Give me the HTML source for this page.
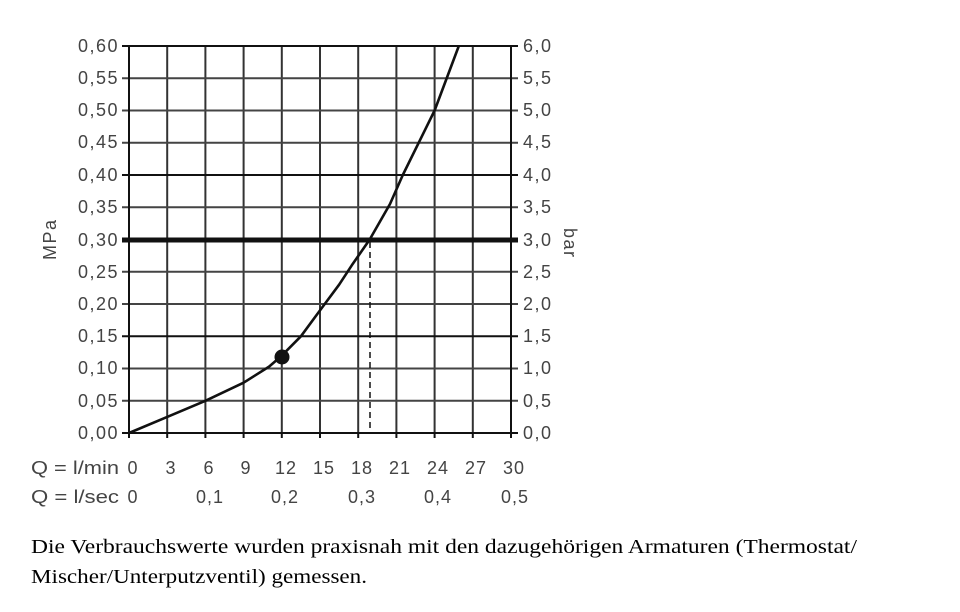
<!DOCTYPE html>
<html><head><meta charset="utf-8"><style>
html,body{margin:0;padding:0;background:#fff;width:960px;height:612px;overflow:hidden}
</style></head><body>
<svg width="960" height="612" xmlns="http://www.w3.org/2000/svg" style="position:absolute;left:0;top:0">
<g stroke="#333" stroke-width="2">
<line x1="167.2" y1="46" x2="167.2" y2="433"/><line x1="205.4" y1="46" x2="205.4" y2="433"/>
<line x1="243.6" y1="46" x2="243.6" y2="433"/><line x1="281.8" y1="46" x2="281.8" y2="433"/>
<line x1="320" y1="46" x2="320" y2="433"/><line x1="358.2" y1="46" x2="358.2" y2="433"/>
<line x1="396.4" y1="46" x2="396.4" y2="433"/><line x1="434.6" y1="46" x2="434.6" y2="433"/>
<line x1="472.8" y1="46" x2="472.8" y2="433"/>
</g>
<g stroke="#444" stroke-width="2">
<line x1="122" y1="78.25" x2="518" y2="78.25"/><line x1="122" y1="110.5" x2="518" y2="110.5"/>
<line x1="122" y1="142.75" x2="518" y2="142.75"/><line x1="122" y1="207.25" x2="518" y2="207.25"/>
<line x1="122" y1="271.75" x2="518" y2="271.75"/><line x1="122" y1="304" x2="518" y2="304"/>
<line x1="122" y1="368.5" x2="518" y2="368.5"/><line x1="122" y1="400.75" x2="518" y2="400.75"/>
</g>
<g stroke="#111" stroke-width="2">
<line x1="122" y1="175" x2="518" y2="175"/><line x1="122" y1="336.25" x2="518" y2="336.25"/>
<line x1="122" y1="46" x2="518" y2="46"/><line x1="122" y1="433" x2="518" y2="433"/>
<line x1="129" y1="46" x2="129" y2="438"/><line x1="511" y1="46" x2="511" y2="438"/>
</g>
<g stroke="#111" stroke-width="2">
<line x1="167.2" y1="433" x2="167.2" y2="438"/><line x1="205.4" y1="433" x2="205.4" y2="438"/>
<line x1="243.6" y1="433" x2="243.6" y2="438"/><line x1="281.8" y1="433" x2="281.8" y2="438"/>
<line x1="320" y1="433" x2="320" y2="438"/><line x1="358.2" y1="433" x2="358.2" y2="438"/>
<line x1="396.4" y1="433" x2="396.4" y2="438"/><line x1="434.6" y1="433" x2="434.6" y2="438"/>
<line x1="472.8" y1="433" x2="472.8" y2="438"/>
</g>
<line x1="122" y1="240" x2="518" y2="240" stroke="#111" stroke-width="5"/>
<line x1="370" y1="242" x2="370" y2="432" stroke="#111" stroke-width="1.5" stroke-dasharray="6,4"/>
<path d="M129,433 L167.2,416.9 L205.4,400.8 L243.6,382.7 L269.1,366.6 L281.8,355.6 L300.9,336.3 L320,310.4 L339.1,284.7 L351.8,265.3 L369.7,239.5 L390,204 L402.8,175 L434.6,110.5 L458.8,46" fill="none" stroke="#111" stroke-width="2.6" stroke-linejoin="round"/>
<circle cx="282" cy="357" r="7.5" fill="#111"/>
<g font-family="Liberation Sans, sans-serif" font-size="18" fill="#444" text-anchor="end" letter-spacing="1.5">
<text x="119" y="52">0,60</text><text x="119" y="84">0,55</text><text x="119" y="116">0,50</text>
<text x="119" y="148">0,45</text><text x="119" y="181">0,40</text><text x="119" y="213">0,35</text>
<text x="119" y="246">0,30</text><text x="119" y="278">0,25</text><text x="119" y="310">0,20</text>
<text x="119" y="342">0,15</text><text x="119" y="374">0,10</text><text x="119" y="407">0,05</text>
<text x="119" y="439">0,00</text>
</g>
<g font-family="Liberation Sans, sans-serif" font-size="18" fill="#444" letter-spacing="1.5">
<text x="523" y="52">6,0</text><text x="523" y="84">5,5</text><text x="523" y="116">5,0</text>
<text x="523" y="148">4,5</text><text x="523" y="181">4,0</text><text x="523" y="213">3,5</text>
<text x="523" y="246">3,0</text><text x="523" y="278">2,5</text><text x="523" y="310">2,0</text>
<text x="523" y="342">1,5</text><text x="523" y="374">1,0</text><text x="523" y="407">0,5</text>
<text x="523" y="439">0,0</text>
<text x="31" y="474" textLength="88" lengthAdjust="spacingAndGlyphs" letter-spacing="0">Q = l/min</text>
<text x="31" y="503" textLength="88" lengthAdjust="spacingAndGlyphs" letter-spacing="0">Q = l/sec</text>
<text transform="translate(56,260) rotate(-90)">MPa</text>
<text transform="translate(564,228) rotate(90)">bar</text>
</g>
<g font-family="Liberation Sans, sans-serif" font-size="18" fill="#444" text-anchor="middle" letter-spacing="1">
<text x="133" y="474">0</text><text x="171" y="474">3</text><text x="209" y="474">6</text>
<text x="246" y="474">9</text><text x="286" y="474">12</text><text x="324" y="474">15</text>
<text x="362" y="474">18</text><text x="400" y="474">21</text><text x="438" y="474">24</text>
<text x="476" y="474">27</text><text x="514" y="474">30</text>
<text x="133" y="503">0</text><text x="210" y="503">0,1</text><text x="285" y="503">0,2</text>
<text x="362" y="503">0,3</text><text x="438" y="503">0,4</text><text x="515" y="503">0,5</text>
</g>
<g font-family="Liberation Serif, serif" font-size="20" fill="#000">
<text x="31" y="553" textLength="826" lengthAdjust="spacingAndGlyphs">Die Verbrauchswerte wurden praxisnah mit den dazugehörigen Armaturen (Thermostat/</text>
<text x="31" y="583" textLength="336" lengthAdjust="spacingAndGlyphs">Mischer/Unterputzventil) gemessen.</text>
</g>
</svg>
</body></html>
